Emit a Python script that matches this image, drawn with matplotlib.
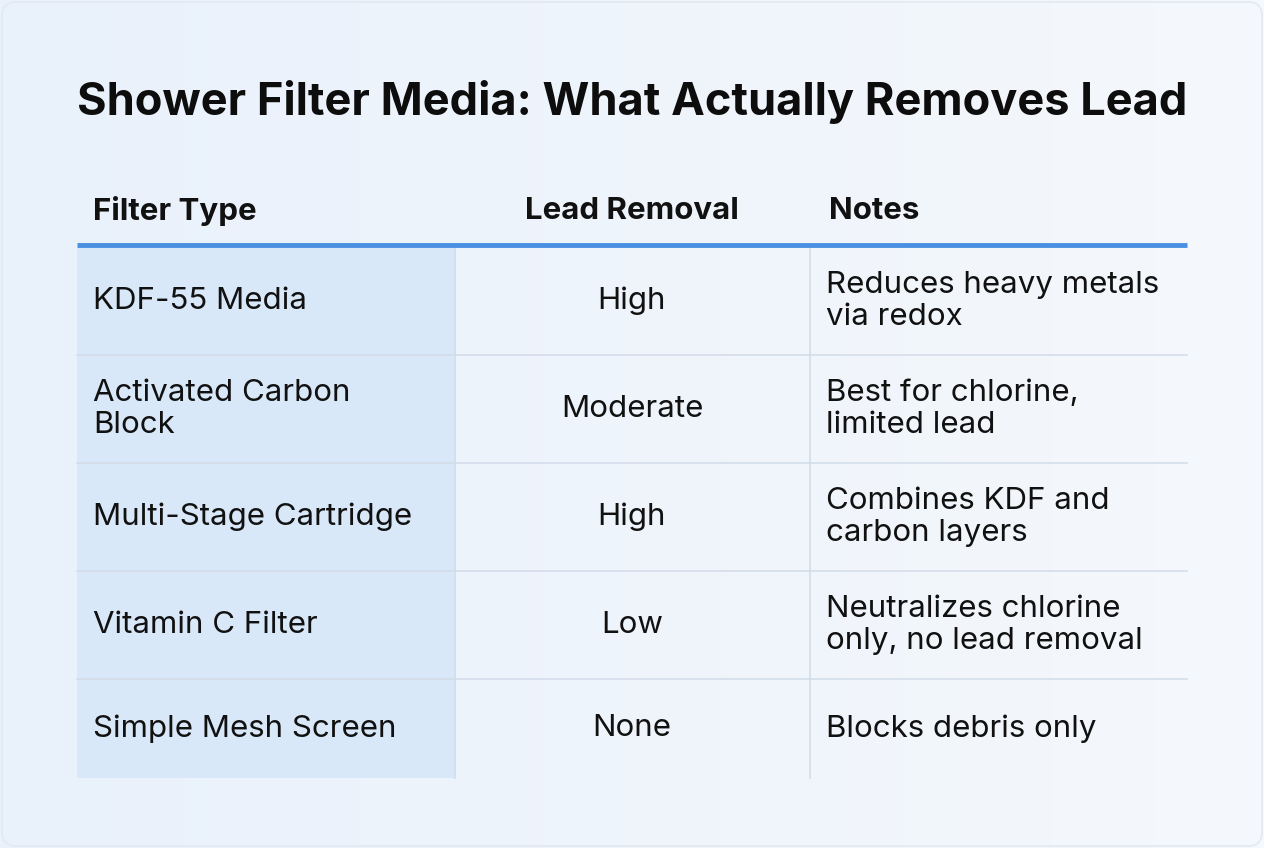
import numpy as np
import matplotlib
matplotlib.use("Agg")
from matplotlib import pyplot as plt
from matplotlib.patches import FancyBboxPatch, Rectangle

plt.rcParams['font.family'] = ['Inter', 'DejaVu Sans']

title = "Shower Filter Media: What Actually Removes Lead"
headers = ["Filter Type", "Lead Removal", "Notes"]
filter_types = ["KDF-55 Media", "Activated Carbon\nBlock", "Multi-Stage Cartridge",
                "Vitamin C Filter", "Simple Mesh Screen"]
lead_removal = ["High", "Moderate", "High", "Low", "None"]
notes = ["Reduces heavy metals\nvia redox", "Best for chlorine,\nlimited lead",
         "Combines KDF and\ncarbon layers", "Neutralizes chlorine\nonly, no lead removal",
         "Blocks debris only"]

W, H = 1264, 848
fig = plt.figure(figsize=(W / 100, H / 100), dpi=100)
ax = fig.add_axes([0, 0, 1, 1])
ax.set_xlim(0, W)
ax.set_ylim(H, 0)
ax.axis('off')

# soft gradient background
grad = np.linspace(0, 1, 256).reshape(1, -1)
ax.imshow(grad, extent=[0, W, H, 0], cmap=matplotlib.colors.LinearSegmentedColormap.from_list(
    'bg', ['#e9f1fb', '#f5f8fc']), aspect='auto', zorder=0)
ax.add_patch(FancyBboxPatch((2, 2), W - 4, H - 4, boxstyle="round,pad=0,rounding_size=14",
                            fc='none', ec='#e3e9f1', lw=1.2, zorder=1))

ax.text(632, 102, title, ha='center', va='center', fontsize=32.5, fontweight='bold',
        color='#0d0d0d', zorder=3)

x0, x1, x2, x3 = 77, 455, 810, 1187
rows = [247, 355, 463, 571, 679, 778]
fs = 22.5

# header
ax.text(93, 211, headers[0], ha='left', va='center', fontsize=fs, fontweight='bold', color='#111')
ax.text(632, 211, headers[1], ha='center', va='center', fontsize=fs, fontweight='bold', color='#111')
ax.text(829, 211, headers[2], ha='left', va='center', fontsize=fs, fontweight='bold', color='#111')
ax.plot([x0, x3], [245, 245], color='#4a90e2', lw=3.5, solid_capstyle='butt', zorder=4)

# first column shading
ax.add_patch(Rectangle((x0, rows[0]), x1 - x0, rows[-1] - rows[0], fc='#d9e8f8', ec='none', zorder=2))

for y in rows[1:-1]:
    ax.plot([x0, x3], [y, y], color='#d3dde9', lw=1.2, zorder=3)
for x in (x1, x2):
    ax.plot([x, x], [rows[0], rows[-1]], color='#d3dde9', lw=1.2, zorder=3)

for i in range(len(filter_types)):
    yc = (rows[i] + rows[i + 1]) / 2
    ax.text(93, yc, filter_types[i], ha='left', va='center', fontsize=fs, color='#111',
            linespacing=1.2, zorder=4)
    ax.text(632, yc, lead_removal[i], ha='center', va='center', fontsize=fs, color='#111', zorder=4)
    ax.text(826, yc, notes[i], ha='left', va='center', fontsize=fs, color='#111',
            linespacing=1.2, zorder=4)

fig.savefig('out.png', dpi=100)
